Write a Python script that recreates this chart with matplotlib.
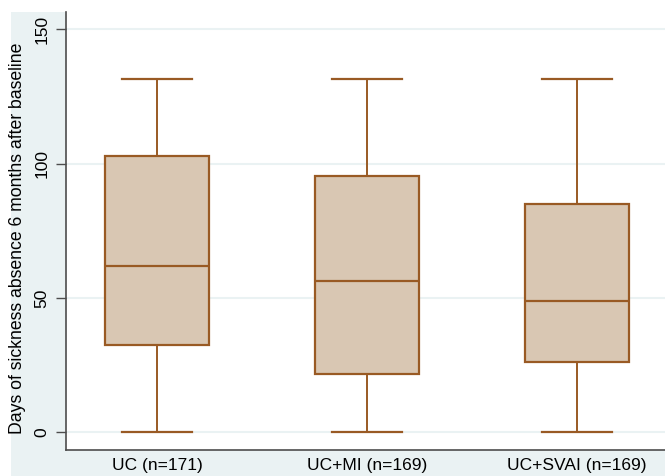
import matplotlib.pyplot as plt
from matplotlib.patches import Rectangle

# Box plot summary values
groups = ["UC (n=171)", "UC+MI (n=169)", "UC+SVAI (n=169)"]
whisker_low = [0, 0, 0]
q1 = [32.5, 21.6, 26.1]
median = [61.9, 56.3, 48.9]
q3 = [102.8, 95.3, 84.9]
whisker_high = [131.3, 131.3, 131.3]
y_ticks = [0, 50, 100, 150]

plt.rcParams["font.family"] = ["Liberation Sans", "DejaVu Sans"]

bg = "#EAF2F3"
edge = "#995A24"
fill = "#D9C7B3"

fig = plt.figure(figsize=(6.65, 4.76), dpi=100, facecolor="white")
# outer graph region (Stata style), cropped at top-left
fig.patches.append(Rectangle((11 / 665, 0), 1, 1 - 12 / 476, transform=fig.transFigure,
                             facecolor=bg, edgecolor="none", zorder=-10))

ax = fig.add_axes([66 / 665, 26 / 476, 599 / 665, 438 / 476])
ax.set_facecolor("white")

stats = []
for i, g in enumerate(groups):
    stats.append({
        "label": g,
        "whislo": whisker_low[i],
        "q1": q1[i],
        "med": median[i],
        "q3": q3[i],
        "whishi": whisker_high[i],
        "fliers": [],
    })

ax.bxp(stats, positions=[1, 2, 3], widths=0.495, capwidths=0.333,
       patch_artist=True, showfliers=False,
       boxprops=dict(facecolor=fill, edgecolor=edge, linewidth=1.6),
       medianprops=dict(color=edge, linewidth=1.6),
       whiskerprops=dict(color=edge, linewidth=1.4),
       capprops=dict(color=edge, linewidth=1.6),
       zorder=3)

ax.set_xlim(0.567, 3.419)
ax.set_ylim(-6.6, 156.4)

ax.set_yticks(y_ticks)
ax.set_yticklabels([str(t) for t in y_ticks], rotation=90, va="center", fontsize=12.5)
ax.yaxis.grid(True, color=bg, linewidth=1.5, zorder=0)
ax.set_axisbelow(True)

ax.tick_params(axis="y", length=7, width=1, color="#4d4d4d", pad=5)
ax.tick_params(axis="x", length=0, pad=6, labelsize=12.5)

for s in ["top", "right"]:
    ax.spines[s].set_visible(False)
for s in ["left", "bottom"]:
    ax.spines[s].set_color("#4d4d4d")
    ax.spines[s].set_linewidth(1.2)

ax.set_ylabel("Days of sickness absence 6 months after baseline", fontsize=12.7, labelpad=6)
ax.yaxis.label.set_y(0.483)

fig.savefig("out.png", dpi=100, facecolor="white")
